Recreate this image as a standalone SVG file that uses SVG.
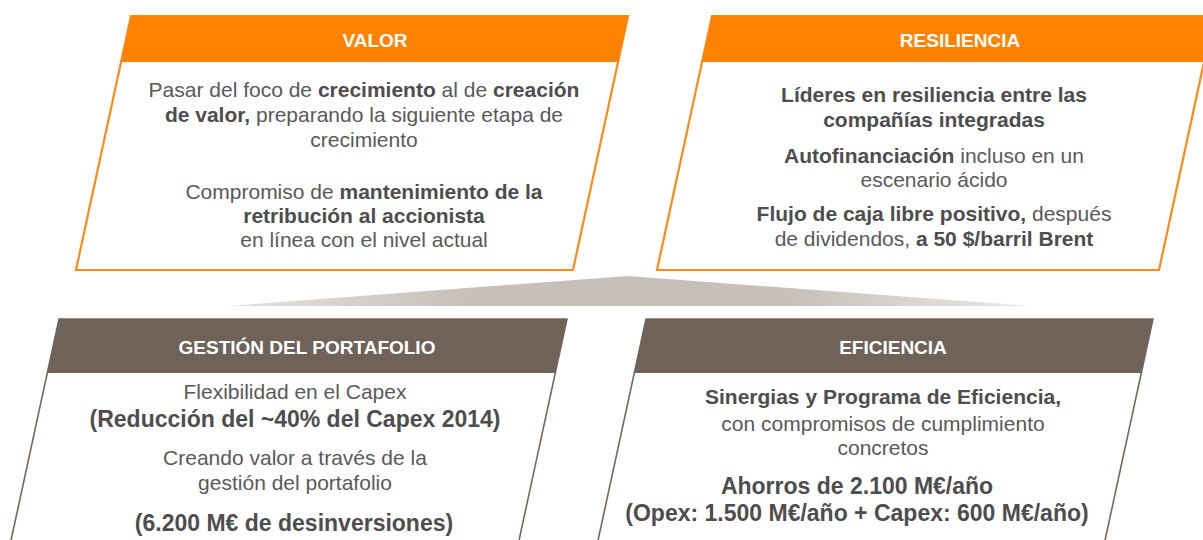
<svg xmlns="http://www.w3.org/2000/svg" width="1203" height="540" viewBox="0 0 1203 540">
<style>
text{font-family:"Liberation Sans",Arial,sans-serif;text-anchor:middle}
.h{font-size:19px;font-weight:bold;fill:#ffffff}
.t{font-size:21px;fill:#595959}
.L{font-size:23px}
.b{font-weight:bold;fill:#4d4d4d}
.ob{fill:#ffffff;stroke:#ff8a17;stroke-width:2.2}
.of{fill:#ff8200}
.bb{fill:#ffffff;stroke:#74695f;stroke-width:1.6}
.bf{fill:#6e6259}
</style>
<defs>
<linearGradient id="tri" x1="228" y1="0" x2="1030" y2="0" gradientUnits="userSpaceOnUse">
<stop offset="0" stop-color="#e6e2dd"/>
<stop offset="0.3" stop-color="#c6c0b9"/>
<stop offset="0.7" stop-color="#c6c0b9"/>
<stop offset="1" stop-color="#ebe8e4"/>
</linearGradient>
</defs>
<g id="connectors">
<polygon points="628,276 1030,306 228,306" fill="url(#tri)"/>
</g>
<g id="valor">
<polygon class="ob" points="131,16 628,16 573,270 76,270"/>
<polygon class="of" points="131,16 628,16 618,62 121,62"/>
<text class="h" x="375" y="47">VALOR</text>
<text class="t" x="364" y="97">Pasar del foco de <tspan class="b">crecimiento</tspan> al de <tspan class="b">creación</tspan></text>
<text class="t" x="364" y="122"><tspan class="b">de valor,</tspan> preparando la siguiente etapa de</text>
<text class="t" x="364" y="147">crecimiento</text>
<text class="t" x="364" y="199">Compromiso de <tspan class="b">mantenimiento de la</tspan></text>
<text class="t b" x="364" y="223">retribución al accionista</text>
<text class="t" x="364" y="247">en línea con el nivel actual</text>
</g>
<g id="resiliencia">
<polygon class="ob" points="712,16 1214,16 1159,270 657,270"/>
<polygon class="of" points="712,16 1214,16 1204,62 702,62"/>
<text class="h" x="960" y="47">RESILIENCIA</text>
<text class="t b" x="934" y="102">Líderes en resiliencia entre las</text>
<text class="t b" x="934" y="127">compañías integradas</text>
<text class="t" x="934" y="163"><tspan class="b">Autofinanciación</tspan> incluso en un</text>
<text class="t" x="934" y="187">escenario ácido</text>
<text class="t" x="934" y="221"><tspan class="b">Flujo de caja libre positivo,</tspan> después</text>
<text class="t" x="934" y="246">de dividendos, <tspan class="b">a 50 $/barril Brent</tspan></text>
</g>
<g id="gestion">
<polygon class="bb" points="59,319 567,319 518,545 10,545"/>
<polygon class="bf" points="59,319 567,319 555,373 47,373"/>
<text class="h" x="307" y="354">GESTIÓN DEL PORTAFOLIO</text>
<text class="t" x="295" y="399">Flexibilidad en el Capex</text>
<text class="t L b" x="295" y="427">(Reducción del ~40% del Capex 2014)</text>
<text class="t" x="295" y="465">Creando valor a través de la</text>
<text class="t" x="295" y="490">gestión del portafolio</text>
<text class="t L b" x="294" y="531">(6.200 M€ de desinversiones)</text>
</g>
<g id="eficiencia">
<polygon class="bb" points="646,319 1153,319 1104,545 597,545"/>
<polygon class="bf" points="646,319 1153,319 1141,373 634,373"/>
<text class="h" x="893" y="354">EFICIENCIA</text>
<text class="t b" x="883" y="404">Sinergias y Programa de Eficiencia,</text>
<text class="t" x="883" y="431">con compromisos de cumplimiento</text>
<text class="t" x="883" y="455">concretos</text>
<text class="t L b" x="857" y="494">Ahorros de 2.100 M€/año</text>
<text class="t L b" x="857" y="521">(Opex: 1.500 M€/año + Capex: 600 M€/año)</text>
</g>
</svg>
